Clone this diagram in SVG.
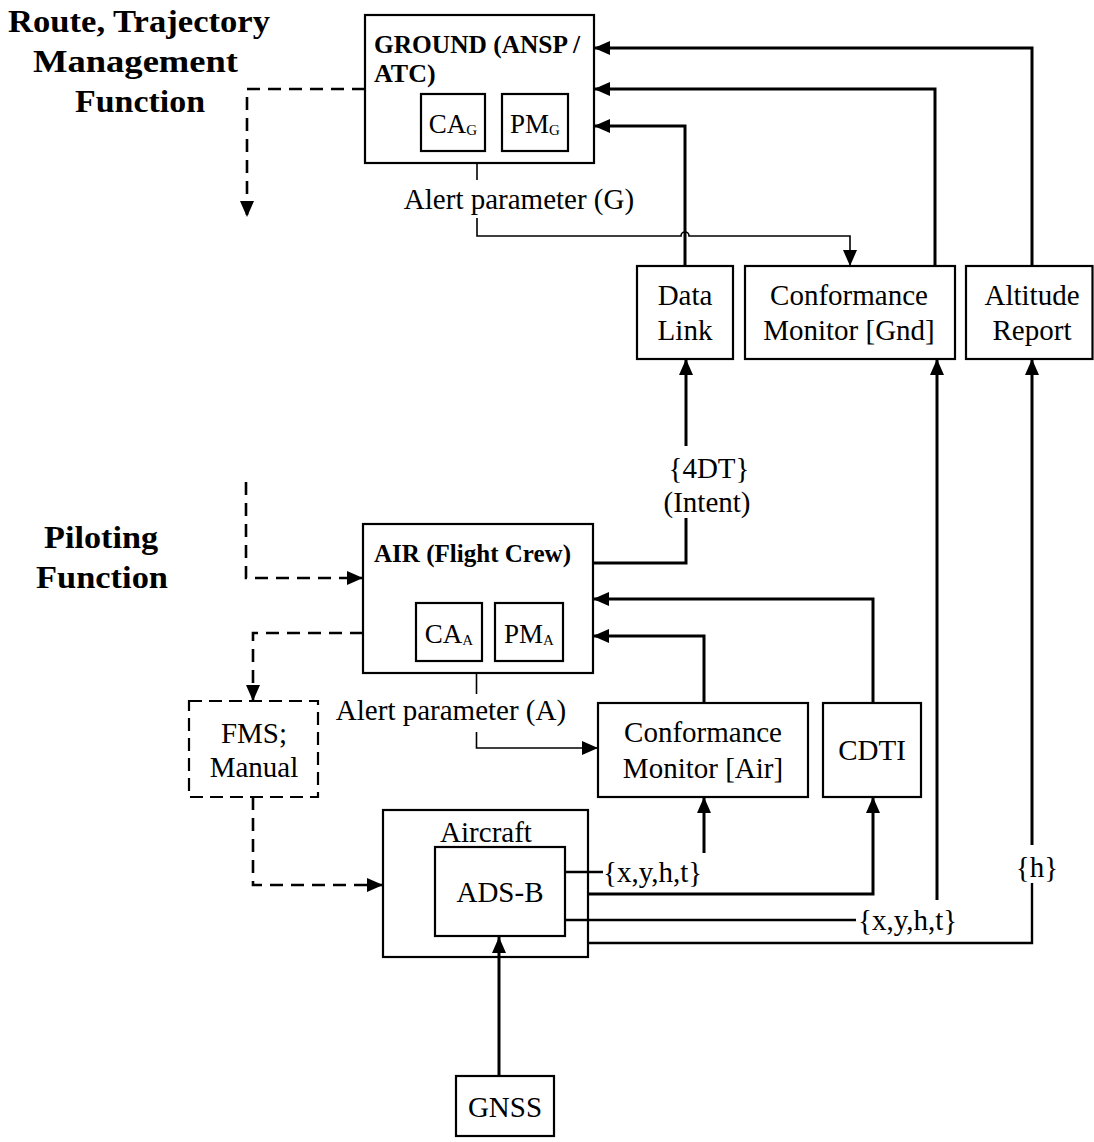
<svg xmlns="http://www.w3.org/2000/svg" width="1094" height="1142" viewBox="0 0 1094 1142">
<style>
.box{fill:#fff;stroke:#000;stroke-width:2.2}
.dbox{fill:#fff;stroke:#000;stroke-width:2.2;stroke-dasharray:13 7}
.t{font-family:"Liberation Serif","Times New Roman",serif;font-size:29px;fill:#000;text-anchor:middle}
.tl{font-family:"Liberation Serif","Times New Roman",serif;font-size:29px;fill:#000}
.h{font-family:"Liberation Serif","Times New Roman",serif;font-size:32px;font-weight:bold;fill:#000;text-anchor:middle}
.b{font-family:"Liberation Serif","Times New Roman",serif;font-size:26px;font-weight:bold;fill:#000}
.s{font-family:"Liberation Serif","Times New Roman",serif;font-size:27px;fill:#000;text-anchor:middle}
.thick{fill:none;stroke:#000;stroke-width:3}
.mid{fill:none;stroke:#000;stroke-width:2.4}
.thin{fill:none;stroke:#000;stroke-width:1.6}
.dash{fill:none;stroke:#000;stroke-width:2.6;stroke-dasharray:13 8}
</style>
<defs>
<marker id="ah" viewBox="0 0 16 14" refX="16" refY="7" markerWidth="16" markerHeight="14" markerUnits="userSpaceOnUse" orient="auto">
<path d="M0,0 L16,7 L0,14 z" fill="#000"/>
</marker>
</defs>

<g id="headings">
<text class="h" x="139" y="32" textLength="262" lengthAdjust="spacingAndGlyphs">Route, Trajectory</text>
<text class="h" x="135.5" y="72" textLength="205" lengthAdjust="spacingAndGlyphs">Management</text>
<text class="h" x="140" y="112" textLength="130" lengthAdjust="spacingAndGlyphs">Function</text>
<text class="h" x="101" y="548" textLength="114" lengthAdjust="spacingAndGlyphs">Piloting</text>
<text class="h" x="102" y="588" textLength="132" lengthAdjust="spacingAndGlyphs">Function</text>
</g>

<g id="ground">
<rect class="box" x="365" y="15" width="229" height="148"/>
<text class="b" x="374" y="53" textLength="206" lengthAdjust="spacingAndGlyphs">GROUND (ANSP /</text>
<text class="b" x="374" y="82">ATC)</text>
</g>
<g id="ca-g">
<rect class="box" x="421" y="94" width="64" height="57"/>
<text class="s" x="453" y="133">CA<tspan font-size="15" dy="2">G</tspan></text>
</g>
<g id="pm-g">
<rect class="box" x="502" y="94" width="66" height="57"/>
<text class="s" x="535" y="133">PM<tspan font-size="15" dy="2">G</tspan></text>
</g>
<g id="alert-g-label">
<text class="t" x="519" y="209">Alert parameter (G)</text>
</g>
<g id="data-link">
<rect class="box" x="637" y="266" width="96" height="93"/>
<text class="t" x="685" y="305">Data</text>
<text class="t" x="685" y="340">Link</text>
</g>
<g id="cm-gnd">
<rect class="box" x="745" y="266" width="210" height="93"/>
<text class="t" x="849" y="305">Conformance</text>
<text class="t" x="849" y="340">Monitor [Gnd]</text>
</g>
<g id="altitude-report">
<rect class="box" x="966" y="266" width="126.5" height="93"/>
<text class="t" x="1032" y="305">Altitude</text>
<text class="t" x="1032" y="340">Report</text>
</g>
<g id="intent-label">
<text class="t" x="709" y="478">{4DT}</text>
<text class="t" x="707" y="512">(Intent)</text>
</g>
<g id="air">
<rect class="box" x="363" y="524" width="230" height="149"/>
<text class="b" x="374" y="562" textLength="197" lengthAdjust="spacingAndGlyphs">AIR (Flight Crew)</text>
</g>
<g id="ca-a">
<rect class="box" x="416" y="603" width="66" height="58"/>
<text class="s" x="449" y="643">CA<tspan font-size="15" dy="2">A</tspan></text>
</g>
<g id="pm-a">
<rect class="box" x="495" y="603" width="68" height="58"/>
<text class="s" x="529" y="643">PM<tspan font-size="15" dy="2">A</tspan></text>
</g>
<g id="alert-a-label">
<text class="t" x="451" y="720">Alert parameter (A)</text>
</g>
<g id="fms">
<rect class="dbox" x="189" y="701" width="129" height="96"/>
<text class="t" x="254" y="743">FMS;</text>
<text class="t" x="254" y="777">Manual</text>
</g>
<g id="cm-air">
<rect class="box" x="598" y="703" width="210" height="94"/>
<text class="t" x="703" y="742">Conformance</text>
<text class="t" x="703" y="778">Monitor [Air]</text>
</g>
<g id="cdti">
<rect class="box" x="823" y="703" width="98" height="94"/>
<text class="t" x="872" y="760">CDTI</text>
</g>
<g id="aircraft">
<rect class="box" x="383" y="810" width="205" height="147"/>
<text class="t" x="486" y="842">Aircraft</text>
</g>
<g id="ads-b">
<rect class="box" x="435" y="847" width="130" height="89"/>
<text class="t" x="500" y="902">ADS-B</text>
</g>
<g id="labels">
<text class="tl" x="603" y="882">{x,y,h,t}</text>
<text class="tl" x="858" y="930">{x,y,h,t}</text>
<text class="t" x="1037" y="877">{h}</text>
</g>
<g id="gnss">
<rect class="box" x="456" y="1076" width="98" height="60"/>
<text class="t" x="505" y="1117">GNSS</text>
</g>

<g id="connectors">
<path class="thick" d="M1032 266 V48 H594" marker-end="url(#ah)"/>
<path class="thick" d="M935 266 V89 H594" marker-end="url(#ah)"/>
<path class="thick" d="M685 266 V126 H594" marker-end="url(#ah)"/>
<path class="thin" d="M477 163 V180"/>
<path class="thin" d="M477 218 V236 H681 A4 4 0 0 1 689 236 H850 V266" marker-end="url(#ah)"/>
<path class="thick" d="M593 563 H686 V518"/>
<path class="thick" d="M686 446 V359" marker-end="url(#ah)"/>
<path class="thick" d="M873 703 V599 H593" marker-end="url(#ah)"/>
<path class="thick" d="M704 703 V636 H593" marker-end="url(#ah)"/>
<path class="thin" d="M476.5 673 V694"/>
<path class="thin" d="M476.5 732 V748 H598" marker-end="url(#ah)"/>
<path class="dash" d="M365 89 H247 V217" marker-end="url(#ah)"/>
<path class="dash" d="M246 482 V578 H363" marker-end="url(#ah)"/>
<path class="dash" d="M363 633 H253 V701" marker-end="url(#ah)"/>
<path class="dash" d="M253 797 V885 H383" marker-end="url(#ah)"/>
<path class="mid" d="M565 872 H603"/>
<path class="thick" d="M704 853 V797" marker-end="url(#ah)"/>
<path class="thick" d="M588 894 H873 V797" marker-end="url(#ah)"/>
<path class="mid" d="M565 920 H856"/>
<path class="thick" d="M937 900 V359" marker-end="url(#ah)"/>
<path class="mid" d="M588 943 H1032 V883"/>
<path class="thick" d="M1032 845 V359" marker-end="url(#ah)"/>
<path class="thick" d="M499 1076 V937" marker-end="url(#ah)"/>
</g>
</svg>
